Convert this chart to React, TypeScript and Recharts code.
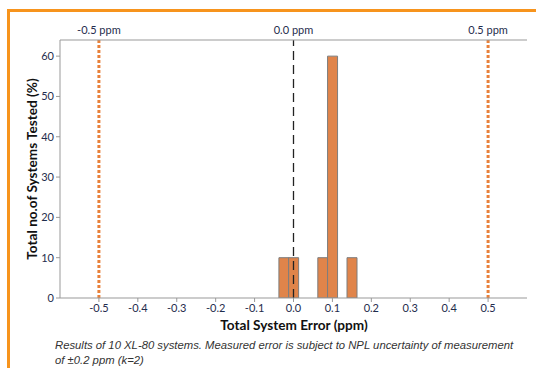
import React from "react";
import {
  ComposedChart,
  Bar,
  XAxis,
  YAxis,
  ReferenceLine,
} from "recharts";

const binCenters = [-0.025, 0.0, 0.075, 0.1, 0.15];
const percentTested = [10, 10, 10, 60, 10];
const xTicks = [-0.5, -0.4, -0.3, -0.2, -0.1, 0.0, 0.1, 0.2, 0.3, 0.4, 0.5];
const yTicks = [0, 10, 20, 30, 40, 50, 60];
const topTicks = [-0.5, 0.0, 0.5];
const topTickLabels = ["-0.5 ppm", "0.0 ppm", "0.5 ppm"];
const limitLines = [-0.5, 0.5];
const nominalLine = 0.0;

const data = binCenters.map((x, i) => ({ x, pct: percentTested[i] }));

const tickFont = { fontFamily: "Lato, 'Open Sans', sans-serif", fontSize: 11, fill: "#1f2d4d" };

export default function App() {
  return (
    <div style={{ position: "absolute", left: 0, top: 0, width: 536, height: 368, overflow: "hidden", background: "#fff" }}>
      <div style={{ position: "absolute", left: 7, top: 9, width: 600, height: 400, borderLeft: "3px solid #F7941D", borderTop: "3px solid #F7941D" }} />
      <div style={{ position: "absolute", left: 0, top: 0 }}>
        <ComposedChart
          width={536}
          height={368}
          data={data}
          margin={{ top: 20, right: 9, bottom: 40, left: 30 }}
          barCategoryGap={0}
          barGap={0}
        >
          <XAxis
            xAxisId="bottom"
            dataKey="x"
            type="number"
            domain={[-0.6, 0.6]}
            ticks={xTicks}
            tickFormatter={(v: number) => v.toFixed(1)}
            tick={tickFont}
            tickLine={{ stroke: "#999" }}
            tickSize={4}
            axisLine={{ stroke: "#999" }}
            height={30}
            interval={0}
            allowDataOverflow
          />
          <XAxis
            xAxisId="top"
            dataKey="x"
            orientation="top"
            type="number"
            domain={[-0.6, 0.6]}
            ticks={topTicks}
            tickFormatter={(v: number) => topTickLabels[topTicks.indexOf(v)] ?? ""}
            tick={tickFont}
            tickLine={false}
            tickSize={4}
            axisLine={{ stroke: "#999" }}
            height={20}
            interval={0}
            allowDataOverflow
          />
          <YAxis
            yAxisId="left"
            type="number"
            domain={[0, 64]}
            ticks={yTicks}
            tick={tickFont}
            tickLine={{ stroke: "#999" }}
            tickSize={4}
            axisLine={{ stroke: "#999" }}
            width={30}
            allowDataOverflow
          />
          <YAxis
            yAxisId="right"
            orientation="right"
            type="number"
            domain={[0, 64]}
            tick={false}
            tickLine={false}
            axisLine={{ stroke: "#999" }}
            width={0}
          />
          {limitLines.map((v) => (
            <ReferenceLine
              key={v}
              xAxisId="bottom"
              yAxisId="left"
              x={v}
              stroke="#E8803A"
              strokeWidth={3}
              strokeDasharray="3 2"
            />
          ))}
          <ReferenceLine
            xAxisId="bottom"
            yAxisId="left"
            x={nominalLine}
            stroke="#222"
            strokeWidth={1.3}
            strokeDasharray="9 5"
          />
          <Bar
            xAxisId="bottom"
            yAxisId="left"
            dataKey="pct"
            fill="#E0844A"
            stroke="#7d7d7d"
            strokeWidth={1}
            isAnimationActive={false}
          />
        </ComposedChart>
      </div>
      <div
        style={{
          position: "absolute",
          left: 32,
          top: 169,
          transform: "translate(-50%, -50%) rotate(-90deg)",
          whiteSpace: "nowrap",
          fontFamily: "Lato, 'Open Sans', sans-serif",
          fontWeight: 700,
          fontSize: 13.6,
          color: "#111",
        }}
      >
        Total no.of Systems Tested (%)
      </div>
      <div
        style={{
          position: "absolute",
          left: 294,
          top: 325,
          transform: "translate(-50%, -50%)",
          whiteSpace: "nowrap",
          fontFamily: "Lato, 'Open Sans', sans-serif",
          fontWeight: 700,
          fontSize: 13.6,
          color: "#111",
        }}
      >
        Total System Error (ppm)
      </div>
      <div
        style={{
          position: "absolute",
          left: 55,
          top: 338,
          fontFamily: "'Liberation Sans', Arial, sans-serif",
          fontStyle: "italic",
          fontSize: 11.3,
          lineHeight: "15px",
          color: "#333",
          whiteSpace: "nowrap",
        }}
      >
        Results of 10 XL-80 systems. Measured error is subject to NPL uncertainty of measurement
        <br />
        of ±0.2 ppm (k=2)
      </div>
    </div>
  );
}
